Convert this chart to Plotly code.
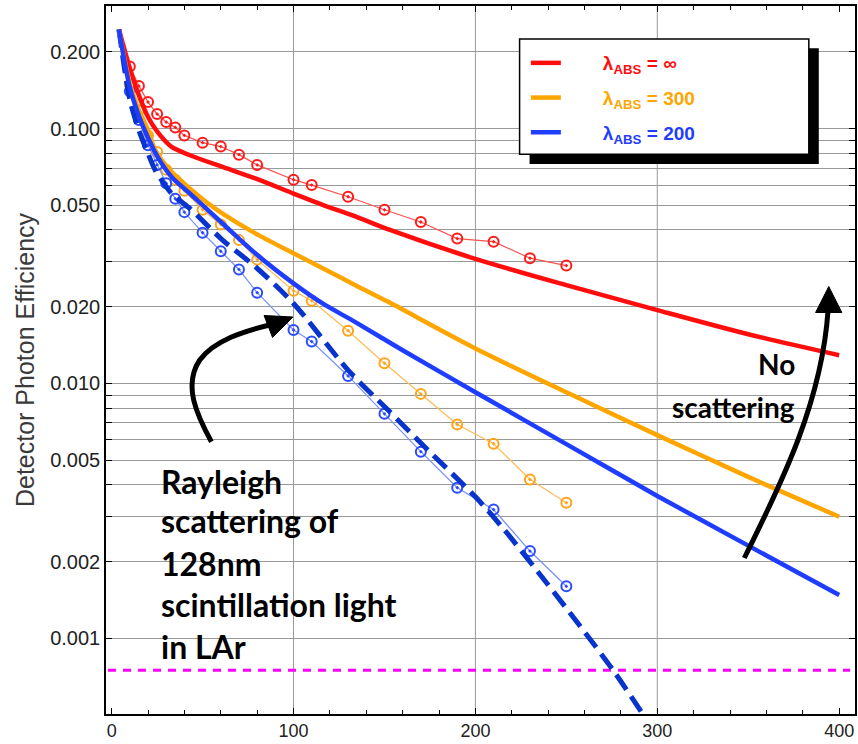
import plotly.graph_objects as go

# ---------------- data ----------------
x_pts = [10, 15, 20, 25, 30, 35, 40, 50, 60, 70, 80, 100, 110, 130, 150, 170, 190, 210, 230, 250]
red_pts = [0.175, 0.147, 0.127, 0.114, 0.106, 0.101, 0.094, 0.088, 0.085, 0.079, 0.072,
           0.063, 0.060, 0.054, 0.048, 0.043, 0.037, 0.036, 0.031, 0.029]
orange_pts = [0.149, 0.118, 0.094, 0.081, 0.069, 0.063, 0.057, 0.048, 0.042, 0.0365, 0.0306,
              0.0231, 0.0211, 0.0161, 0.0120, 0.0091, 0.0069, 0.0058, 0.0042, 0.0034]
blue_pts = [0.140, 0.108, 0.086, 0.072, 0.061, 0.053, 0.047, 0.039, 0.033, 0.028, 0.0227,
            0.0162, 0.0146, 0.0107, 0.0076, 0.0054, 0.0039, 0.0032, 0.0022, 0.0016]

red_x = [4, 7, 10, 15, 20, 25, 33, 43, 61, 79, 100, 116, 134, 153, 200, 250, 300, 350, 400]
red_y = [0.245, 0.205, 0.172, 0.135, 0.111, 0.0975, 0.0847, 0.0786, 0.0707, 0.0637, 0.0556,
         0.0502, 0.0452, 0.0400, 0.0308, 0.0243, 0.0194, 0.0156, 0.0129]

orange_x = [4, 10, 15, 20, 24, 33, 43, 52, 61, 79, 100, 116, 134, 152, 200, 250, 300, 350, 400]
orange_y = [0.245, 0.150, 0.118, 0.0985, 0.0822, 0.0676, 0.0582, 0.0515, 0.0464, 0.0388, 0.0324,
            0.0283, 0.0243, 0.0209, 0.01372, 0.00923, 0.00627, 0.0043, 0.0030]

blue_x = [4, 10, 15, 20, 25, 33, 43, 61, 79, 100, 116, 134, 160, 200, 250, 300, 350, 400]
blue_y = [0.245, 0.145, 0.112, 0.092, 0.078, 0.0646, 0.0556, 0.0424, 0.0324, 0.0247, 0.0206,
          0.0174, 0.0135, 0.00924, 0.00578, 0.00362, 0.00231, 0.00148]

rayleigh_x = [4, 10, 15, 20, 24, 33, 43, 61, 79, 100, 130, 152, 174, 200, 216, 238, 257, 276, 292, 298]
rayleigh_y = [0.245, 0.130, 0.0984, 0.0798, 0.0686, 0.0556, 0.0486, 0.0365, 0.0287, 0.0206,
              0.01128, 0.00786, 0.00547, 0.00359, 0.00266, 0.00169, 0.00113, 0.000745,
              0.000505, 0.000436]

threshold_level = 0.00075
threshold_x = [-2, 406]

legend_names = ["λ<sub>ABS</sub> = ∞", "λ<sub>ABS</sub> = 300", "λ<sub>ABS</sub> = 200"]

x_tick_vals = [0, 100, 200, 300, 400]
x_grid_vals = [100, 200, 300]
y_tick_vals = [0.001, 0.002, 0.003, 0.004, 0.005, 0.006, 0.007, 0.008, 0.009,
               0.01, 0.02, 0.03, 0.04, 0.05, 0.06, 0.07, 0.08, 0.09, 0.1, 0.2]
y_tick_text = ["0.001", "0.002", "", "", "0.005", "", "", "", "",
               "0.010", "0.020", "", "", "0.050", "", "", "", "", "0.100", "0.200"]

rayleigh_text = ["Rayleigh", "scattering of", "128nm", "scintillation light", "in LAr"]
noscat_text = ["No", "scattering"]

# ---------------- layout geometry ----------------
W, H = 858, 744
ML, MR, MT, MB = 106, 1, 6, 30
PW = W - ML - MR
PH = H - MT - MB


def px(xp):
    return (xp - ML) / PW


def py(yp):
    return (H - MB - yp) / PH


RED = "#ff0d0d"
ORANGE = "#ffa500"
BLUE = "#1f3dff"
DKBLUE = "#0833cc"

fig = go.Figure()

# threshold
fig.add_trace(go.Scatter(x=threshold_x, y=[threshold_level] * 2, mode="lines",
                         line=dict(color="#ff00ff", width=3, dash="8px,7px"),
                         showlegend=False, hoverinfo="skip"))

# point series
for ys, mc, lc in [(red_pts, "#ff1a1a", "#ff5050"),
                   (orange_pts, "#ffa31a", "#ffbb55"),
                   (blue_pts, "#2a4bff", "#7890ff")]:
    fig.add_trace(go.Scatter(x=x_pts, y=ys, mode="lines+markers",
                             line=dict(color=lc, width=1.2),
                             marker=dict(symbol="circle-open-dot", size=10, color=mc,
                                         line=dict(width=2, color=mc)),
                             showlegend=False))

# dashed Rayleigh curve
fig.add_trace(go.Scatter(x=rayleigh_x, y=rayleigh_y, mode="lines",
                         line=dict(color=DKBLUE, width=5, dash="18px,8px",
                                   shape="spline", smoothing=0.8),
                         showlegend=False))

# solid curves (legend)
for i, (xs, ys, c) in enumerate([(red_x, red_y, RED), (orange_x, orange_y, ORANGE),
                                  (blue_x, blue_y, BLUE)]):
    label = "\u00a0" * 7 + "<b><span style='color:%s'>%s</span></b>" % (c, legend_names[i])
    fig.add_trace(go.Scatter(x=xs, y=ys, mode="lines",
                             line=dict(color=c, width=4.5, shape="spline", smoothing=0.8),
                             name=label, legendgroup="g%d" % i))

shapes = []
# vertical grid lines
for gx in x_grid_vals:
    shapes.append(dict(type="line", xref="x", yref="paper", x0=gx, x1=gx, y0=0, y1=1,
                       line=dict(color="#999999", width=1), layer="below"))

# legend box with shadow
shapes.append(dict(type="rect", xref="paper", yref="paper",
                   x0=px(530.7), x1=px(820.7), y0=py(164), y1=py(48.3),
                   fillcolor="black", line=dict(width=0), layer="above"))
shapes.append(dict(type="rect", xref="paper", yref="paper",
                   x0=px(520.7), x1=px(810.7), y0=py(154.3), y1=py(39),
                   fillcolor="white", line=dict(color="black", width=1.5), layer="above"))


def pth(points_cmd):
    out = []
    for tok in points_cmd:
        if isinstance(tok, str):
            out.append(tok)
        else:
            out.append("%.5f,%.5f" % (px(tok[0]), py(tok[1])))
    return " ".join(out)


# left curved arrow
shapes.append(dict(type="path", xref="paper", yref="paper",
                   path=pth(["M", (211.7, 441.7), "C", (197, 415), (183, 385), (200, 360),
                             "C", (215, 340), (245, 331), (270, 325)]),
                   line=dict(color="black", width=5), fillcolor="rgba(0,0,0,0)", layer="above"))
shapes.append(dict(type="path", xref="paper", yref="paper",
                   path=pth(["M", (293.5, 317), "L", (264.5, 315.5), "L", (273, 337.5), "Z"]),
                   line=dict(color="black", width=1), fillcolor="black", layer="above"))
# right curved arrow
shapes.append(dict(type="path", xref="paper", yref="paper",
                   path=pth(["M", (746, 558), "C", (785, 480), (824, 400), (830, 310)]),
                   line=dict(color="black", width=5), fillcolor="rgba(0,0,0,0)", layer="above"))
shapes.append(dict(type="path", xref="paper", yref="paper",
                   path=pth(["M", (830.7, 286.5), "L", (817.5, 312.5), "L", (843.8, 312.5), "Z"]),
                   line=dict(color="black", width=1), fillcolor="black", layer="above"))

annotations = []
FS = 32
base_ys = [494, 533, 576, 617, 659]
for t, b in zip(rayleigh_text, base_ys):
    annotations.append(dict(xref="paper", yref="paper", x=px(159), y=py(b - 0.387 * FS),
                            xanchor="left", yanchor="middle", showarrow=False,
                            text="<b>%s</b>" % t, align="left",
                            font=dict(family="Lato", size=FS, color="black")))
FS2 = 28
for t, b in zip(noscat_text, [375, 418]):
    annotations.append(dict(xref="paper", yref="paper", x=px(799), y=py(b - 0.387 * FS2),
                            xanchor="right", yanchor="middle", showarrow=False,
                            text="<b>%s</b>" % t, align="right",
                            font=dict(family="Lato", size=FS2, color="black")))

fig.update_layout(
    width=W, height=H,
    margin=dict(l=ML, r=MR, t=MT, b=MB),
    paper_bgcolor="white", plot_bgcolor="white",
    font=dict(family="Liberation Sans", size=18, color="#222222"),
    showlegend=True,
    legend=dict(x=px(527), y=py(44), xanchor="left", yanchor="top",
                bgcolor="rgba(0,0,0,0)", borderwidth=0, tracegroupgap=7,
                font=dict(family="Liberation Sans", size=19)),
    shapes=shapes, annotations=annotations,
    xaxis=dict(range=[-3.1, 408.7], tickvals=x_tick_vals, showgrid=False, zeroline=False,
               ticks="inside", ticklen=6, tickcolor="black", mirror="ticks",
               showline=True, linecolor="black", linewidth=1.5,
               minor=dict(dtick=20, tick0=0, ticks="inside", ticklen=4, tickcolor="black",
                          showgrid=False),
               tickfont=dict(size=18)),
    yaxis=dict(type="log", range=[-3.2969, -0.5192], tickvals=y_tick_vals,
               ticktext=y_tick_text, showgrid=True, gridcolor="#999999", gridwidth=1,
               zeroline=False, ticks="inside", ticklen=6, tickcolor="black", mirror="ticks",
               showline=True, linecolor="black", linewidth=1.5,
               title=dict(text="Detector Photon Efficiency", standoff=8,
                          font=dict(size=25, color="#3a3a3a")),
               tickfont=dict(size=20)),
)

fig.write_html("out.html", config={"displayModeBar": False},
               post_script="document.body.style.margin='0px';")
